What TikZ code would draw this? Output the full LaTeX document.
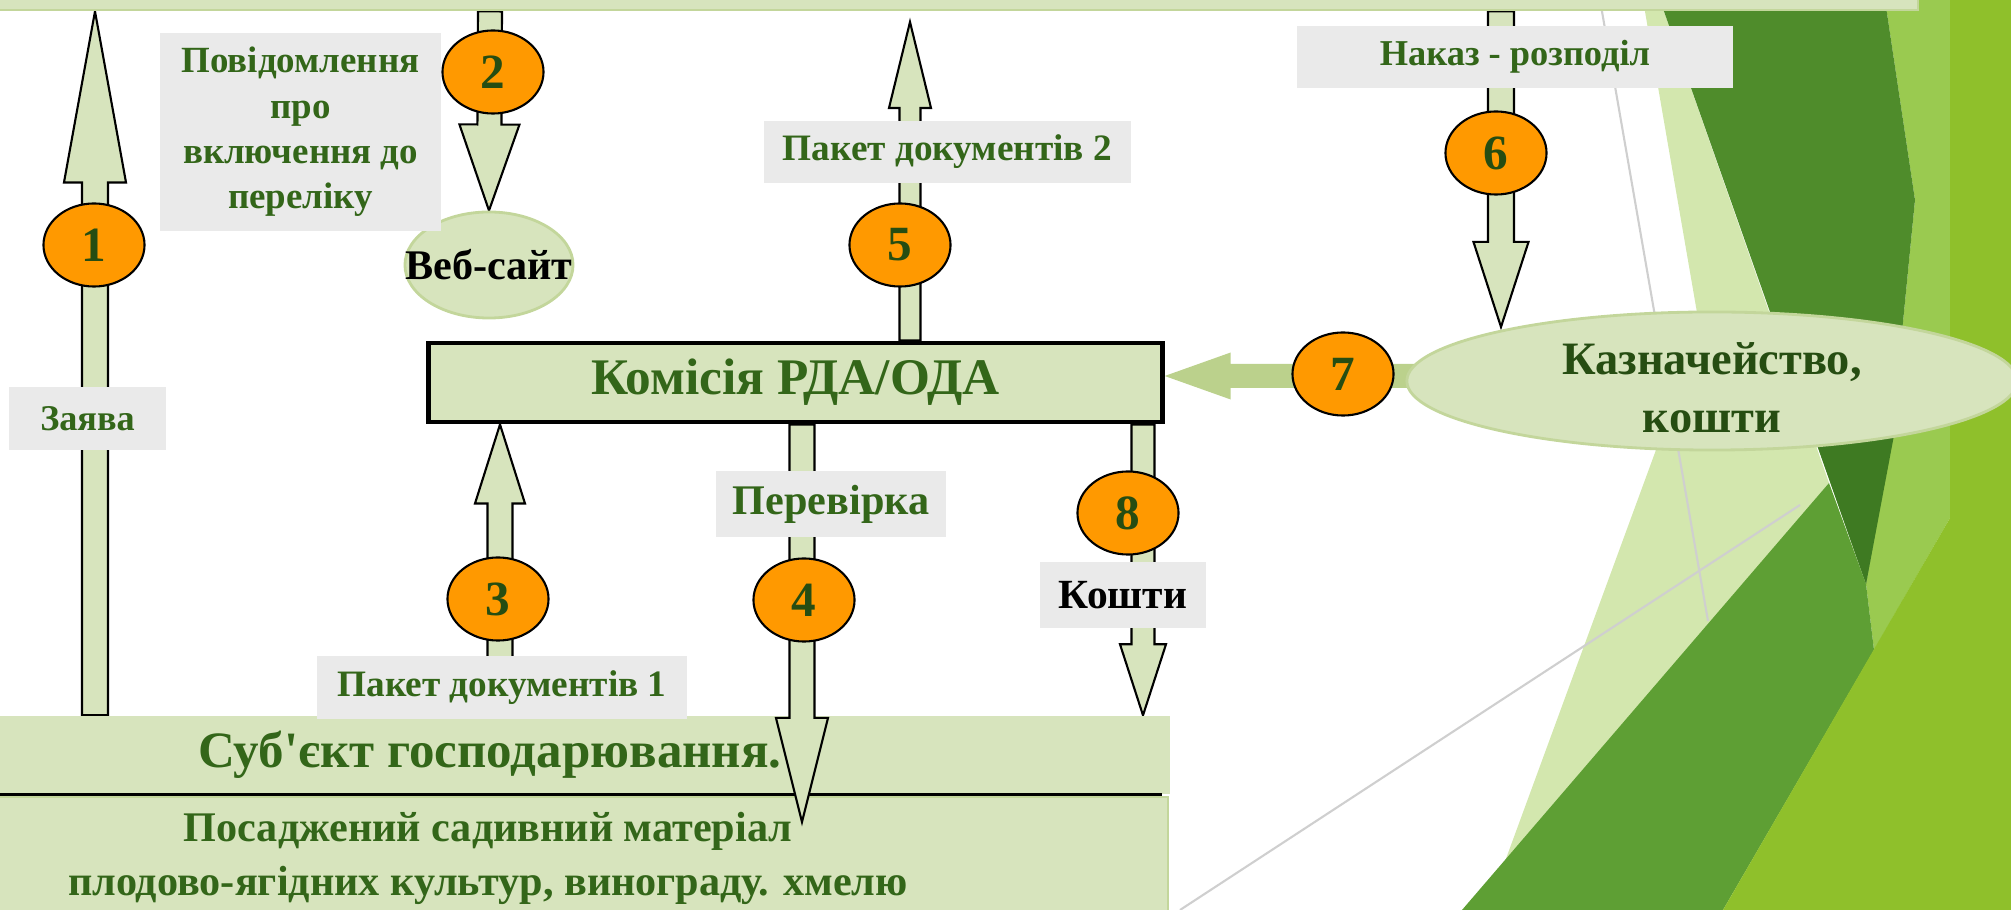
\documentclass[tikz,border=0pt]{standalone}
\usepackage{fontspec}
\setmainfont{Liberation Serif}
\newfontfamily\plainfam{Liberation Serif}
\usetikzlibrary{calc,fit,shapes.geometric}

\definecolor{boxgreen}{HTML}{D7E4BD}
\definecolor{rimgreen}{HTML}{C3D69B}
\definecolor{flowgreen}{HTML}{BBD18C}
\definecolor{txtgreen}{HTML}{336619}
\definecolor{deepgreen}{HTML}{264D12}
\definecolor{tagorange}{HTML}{FF9900}
\definecolor{taggray}{HTML}{EAEAEA}
\definecolor{linegray}{HTML}{CFCFCF}
\definecolor{leafpale}{HTML}{D3E7AE}
\definecolor{leaflight}{HTML}{9ACA50}
\definecolor{leafdark}{HTML}{4F8C2B}
\definecolor{leafdeep}{HTML}{3E7A22}
\definecolor{leafmid}{HTML}{5E9F34}
\definecolor{leafbright}{HTML}{8FC02B}

\pgfdeclarelayer{back}
\pgfdeclarelayer{mid}
\pgfdeclarelayer{front}
\pgfsetlayers{back,mid,main,front}

\tikzset{
  stage/.style={rectangle, fill=boxgreen, inner sep=0pt, text=txtgreen},
  tag/.style={rectangle, fill=taggray, inner sep=0pt, text=txtgreen, align=center,
    font=\bfseries\fontsize{10.6}{13}\selectfont},
  num/.style={ellipse, draw=black, line width=0.6pt, fill=tagorange, inner sep=0pt,
    minimum width=1.01cm, minimum height=0.83cm, text=deepgreen,
    font=\bfseries\fontsize{14}{14}\selectfont},
  oval/.style={ellipse, fill=boxgreen, draw=rimgreen, line width=0.8pt, inner sep=0pt},
  flow/.style={fill=boxgreen, draw=black, line width=0.6pt},
  feed/.style={fill=flowgreen},
}

% block arrow: [style] tail, tip, shaft half width, head half width, head length
\newcommand\blockarrow[6][flow]{%
  \coordinate (ba) at ($(#3)!#6!(#2)$);
  \path[#1] ($(#2)!#4!90:(#3)$) -- ($(ba)!#4!90:(#3)$) -- ($(ba)!#5!90:(#3)$) -- (#3)
    -- ($(ba)!#5!-90:(#3)$) -- ($(ba)!#4!-90:(#3)$) -- ($(#2)!#4!-90:(#3)$) -- cycle;}

\begin{document}
\begin{tikzpicture}[x=0.01cm, y=-0.01cm]
\useasboundingbox (0,0) rectangle (2011,910);

% background facets
\begin{pgfonlayer}{back}
  \fill[leafpale] (1643,0) -- (1700,330) -- (1500,875) -- (1829,483) -- (1660,0) -- cycle;
  \draw[linegray, line width=0.6pt] (1600,0) -- (1708,621);
  \draw[linegray, line width=0.6pt] (1180,910) -- (1800,505);
  \fill[leaflight] (1885,0) -- (1950,0) -- (1950,518) -- (1874,650) -- (1866,584) -- (1891,444) -- (1915,200) -- cycle;
  \fill[leafdark] (1660,0) -- (1885,0) -- (1915,200) -- (1891,444) -- (1866,584) -- cycle;
  \fill[leafdeep] (1812,430) -- (1895,430) -- (1866,584) -- cycle;
  \fill[leafmid] (1462,910) -- (1829,483) -- (1866,584) -- (1874,650) -- (1723,910) -- cycle;
  \fill[leafbright] (1950,0) -- (2011,0) -- (2011,910) -- (1723,910) -- (1950,518) -- cycle;
\end{pgfonlayer}

% boxes
\node[stage, fit={(-30,-40) (1918,10)}, draw=rimgreen, line width=0.8pt] (top) {};
\node[stage, minimum width=7.33cm, minimum height=0.79cm, draw=black, line width=1.4pt,
  font=\bfseries\fontsize{14.6}{17}\selectfont] (kom) at (795.5,382.5) {Комісія РДА/ОДА};
\node[stage, minimum width=13.6cm, minimum height=0.78cm,
  font=\bfseries\fontsize{14.5}{17}\selectfont] (subj) at (490,755)
  {Суб{\plainfam'}єкт господарювання.};
\node[stage, fit={(-190,797) (1168,940)}, draw=rimgreen, line width=0.5pt] (mat) {};
\node[text=txtgreen, align=center, font=\bfseries\fontsize{12}{15.4}\selectfont] (mattxt) at (488,858)
  {Посаджений садивний матеріал\\плодово-ягідних культур, винограду. хмелю};
\draw[line width=0.9pt] (subj.south west) -- ($(subj.south east)+(-9,0)$);
\node[oval, minimum width=1.68cm, minimum height=1.06cm] (web) at (489,265) {};
\node[font=\bfseries\fontsize{12}{14}\selectfont] (webtxt) at (web.center) {Веб-сайт};
\node[oval, minimum width=6.1cm, minimum height=1.38cm] (kazn) at (1712,381) {};
\node[align=center, text=deepgreen, font=\bfseries\fontsize{13.2}{16.6}\selectfont] (kazntxt)
  at ($(kazn.center)+(0,7)$) {Казначейство,\\кошти};

% arrow ends
\coordinate (a1s) at (95,0 |- subj.north);
\coordinate (a1e) at (95,0 |- top.south);
\coordinate (a2s) at (490,0 |- top.south);
\coordinate (a3s) at (500,0 |- subj.north);
\coordinate (a3e) at (500,0 |- kom.south);
\coordinate (a4s) at (802,0 |- kom.south);
\coordinate (a4e) at (802,822);
\coordinate (a5s) at (910,0 |- kom.north);
\coordinate (a5e) at (910,22);
\coordinate (a6s) at (1501,0 |- top.south);
\coordinate (a6e) at (1501,327);
\coordinate (a7s) at ($(kazn.west)+(25,-5)$);
\coordinate (a7e) at (kom.east |- a7s);
\coordinate (a8s) at (1143,0 |- kom.south);
\coordinate (a8e) at (1143,0 |- subj.north);

\begin{pgfonlayer}{back}
  \blockarrow[feed]{a7s}{a7e}{0.12cm}{0.235cm}{0.66cm}
\end{pgfonlayer}
\begin{pgfonlayer}{mid}
  \blockarrow{a1s}{a1e}{0.13cm}{0.31cm}{1.71cm}
  \blockarrow{a2s}{web.north}{0.12cm}{0.30cm}{0.86cm}
  \blockarrow{a3s}{a3e}{0.125cm}{0.25cm}{0.79cm}
  \blockarrow{a5s}{a5e}{0.105cm}{0.21cm}{0.86cm}
  \blockarrow{a6s}{a6e}{0.13cm}{0.275cm}{0.85cm}
  \blockarrow{a8s}{a8e}{0.115cm}{0.23cm}{0.71cm}
\end{pgfonlayer}

% labels
\node[tag, minimum width=1.57cm, minimum height=0.63cm,
  font=\bfseries\fontsize{10.3}{13}\selectfont] (lzay) at (87.5,418.5) {Заява};
\node[tag, minimum width=2.81cm, minimum height=1.98cm,
  font=\bfseries\fontsize{10.5}{12.9}\selectfont] (lpov) at (300.5,132)
  {Повідомлення\\про\\включення до\\переліку};
\node[tag, minimum width=3.67cm, minimum height=0.62cm] (lpak2) at (947.5,152) {Пакет документів 2};
\node[tag, minimum width=4.36cm, minimum height=0.62cm,
  font=\bfseries\fontsize{10.35}{13}\selectfont] (lnak) at (1515,57) {Наказ - розподіл};
\node[tag, minimum width=1.66cm, minimum height=0.66cm, text=black,
  font=\bfseries\fontsize{11.8}{13}\selectfont] (lkosh) at (1123,595) {Кошти};
\node[tag, minimum width=3.7cm, minimum height=0.63cm] (lpak1) at (502,687.5) {Пакет документів 1};

% numbered steps
\node[num] (n1) at (94,245) {1};
\node[num] (n2) at (493,72) {2};
\node[num] (n3) at (498,599) {3};
\node[num] (n5) at (900,245) {5};
\node[num] (n6) at (1496,153) {6};
\node[num] (n7) at (1343,374) {7};
\node[num] (n8) at (1128,513) {8};

\begin{pgfonlayer}{front}
  \blockarrow{a4s}{a4e}{0.125cm}{0.26cm}{1.04cm}
  \node[tag, minimum width=2.3cm, minimum height=0.66cm,
    font=\bfseries\fontsize{12}{13}\selectfont] (lper) at (831,504) {Перевірка};
  \node[num] (n4) at (804,600) {4};
\end{pgfonlayer}
\end{tikzpicture}
\end{document}
